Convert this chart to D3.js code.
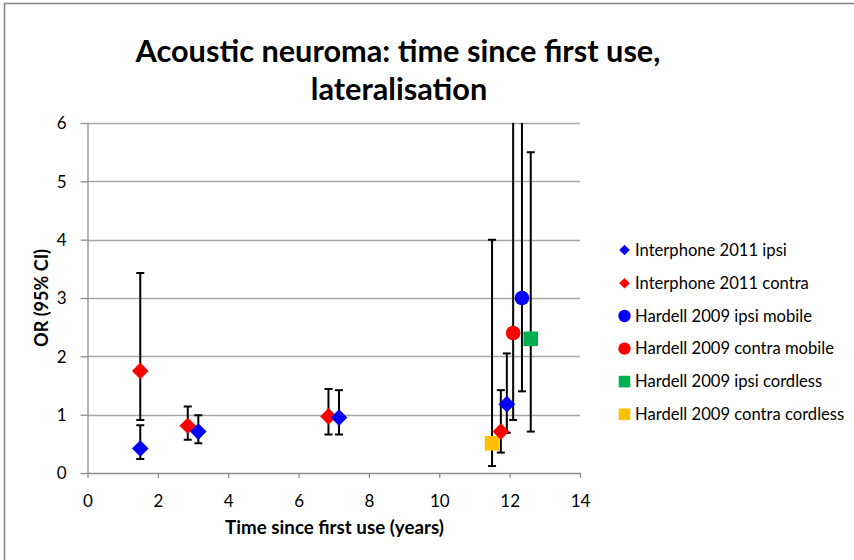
<!DOCTYPE html>
<html>
<head>
<meta charset="utf-8">
<script src="https://cdn.jsdelivr.net/npm/d3@7"></script>
<style>
  html, body { margin: 0; padding: 0; background: #fff; }
  svg { display: block; font-family: Lato, "Open Sans", sans-serif; }
</style>
</head>
<body>
<svg id="chart" width="854" height="560"></svg>
<script>
// ---------- data ----------
const titleLines = ["Acoustic neuroma: time since first use,", "lateralisation"];
const xAxisTitle = "Time since first use (years)";
const yAxisTitle = "OR (95% CI)";
const xTicks = [0, 2, 4, 6, 8, 10, 12, 14];
const yTicks = [0, 1, 2, 3, 4, 5, 6];

const seriesNames = [
  "Interphone 2011 ipsi",
  "Interphone 2011 contra",
  "Hardell 2009 ipsi mobile",
  "Hardell 2009 contra mobile",
  "Hardell 2009 ipsi cordless",
  "Hardell 2009 contra cordless"
];

const interphoneIpsiX  = [1.5, 3.15, 7.15, 11.92];
const interphoneIpsiOR = [0.42, 0.71, 0.95, 1.18];
const interphoneIpsiLo = [0.24, 0.51, 0.66, 0.69];
const interphoneIpsiHi = [0.82, 0.99, 1.42, 2.05];

const interphoneContraX  = [1.5, 2.85, 6.85, 11.75];
const interphoneContraOR = [1.75, 0.81, 0.97, 0.71];
const interphoneContraLo = [0.91, 0.57, 0.66, 0.35];
const interphoneContraHi = [3.43, 1.14, 1.44, 1.42];

const hardellIpsiMobileX  = [12.35];
const hardellIpsiMobileOR = [3.0];
const hardellIpsiMobileLo = [1.4];
const hardellIpsiMobileHi = [6.5];

const hardellContraMobileX  = [12.1];
const hardellContraMobileOR = [2.4];
const hardellContraMobileLo = [0.91];
const hardellContraMobileHi = [6.5];

const hardellIpsiCordlessX  = [12.6];
const hardellIpsiCordlessOR = [2.3];
const hardellIpsiCordlessLo = [0.71];
const hardellIpsiCordlessHi = [5.5];

const hardellContraCordlessX  = [11.5];
const hardellContraCordlessOR = [0.51];
const hardellContraCordlessLo = [0.12];
const hardellContraCordlessHi = [4.0];

// ---------- build series ----------
function pts(xs, ors, los, his) {
  return xs.map((x, i) => ({ x, y: ors[i], lo: los[i], hi: his[i] }));
}
const series = [
  { name: seriesNames[0], color: "#0000FF", shape: "diamond", data: pts(interphoneIpsiX, interphoneIpsiOR, interphoneIpsiLo, interphoneIpsiHi) },
  { name: seriesNames[1], color: "#FF0000", shape: "diamond", data: pts(interphoneContraX, interphoneContraOR, interphoneContraLo, interphoneContraHi) },
  { name: seriesNames[2], color: "#0000FF", shape: "circle", data: pts(hardellIpsiMobileX, hardellIpsiMobileOR, hardellIpsiMobileLo, hardellIpsiMobileHi) },
  { name: seriesNames[3], color: "#FF0000", shape: "circle", data: pts(hardellContraMobileX, hardellContraMobileOR, hardellContraMobileLo, hardellContraMobileHi) },
  { name: seriesNames[4], color: "#00B050", shape: "square", data: pts(hardellIpsiCordlessX, hardellIpsiCordlessOR, hardellIpsiCordlessLo, hardellIpsiCordlessHi) },
  { name: seriesNames[5], color: "#FFC000", shape: "square", data: pts(hardellContraCordlessX, hardellContraCordlessOR, hardellContraCordlessLo, hardellContraCordlessHi) }
];
// drawing order of markers (Hardell underneath Interphone)
const drawOrder = [5, 4, 3, 2, 1, 0];

// ---------- layout ----------
const svg = d3.select("#chart");
const plot = { left: 87.5, right: 580, top: 123, bottom: 473 };
const x = d3.scaleLinear().domain([0, 14]).range([plot.left, plot.right]);
const y = d3.scaleLinear().domain([0, 6]).range([plot.bottom, plot.top]);

const gray = "#8c8c8c";
const gridGray = "#a6a6a6";
const textColor = "#000";

// fit a text element's font size so its width matches a target width
function fitWidth(sel, baseSize, target) {
  sel.attr("font-size", baseSize);
  const w = sel.node().getComputedTextLength();
  const s = baseSize * target / w;
  sel.attr("font-size", s);
  return s;
}

// chart border
svg.append("rect").attr("x", 4.5).attr("y", 3.5).attr("width", 900).attr("height", 600)
  .attr("fill", "none").attr("stroke", "#8a8a8a").attr("stroke-width", 1.6);

// title
const title = svg.append("g").attr("font-weight", "bold").attr("fill", textColor).attr("text-anchor", "middle");
const t1 = title.append("text").attr("x", 398).attr("y", 62).text(titleLines[0]);
const t2 = title.append("text").attr("x", 399).attr("y", 100).text(titleLines[1]);
const fs = fitWidth(t1, 30, 525);
t2.attr("font-size", fs);

// gridlines
svg.append("g").selectAll("line").data(yTicks.filter(d => d > 0)).join("line")
  .attr("x1", plot.left).attr("x2", plot.right)
  .attr("y1", d => Math.round(y(d)) + 0.5).attr("y2", d => Math.round(y(d)) + 0.5)
  .attr("stroke", gridGray).attr("stroke-width", 1.3);

// axes
const xAxis = d3.axisBottom(x).tickValues(xTicks).tickSize(5).tickPadding(17).tickFormat(d3.format("d"));
const gx = svg.append("g").attr("transform", `translate(0,${plot.bottom})`).call(xAxis);
const yAxis = d3.axisLeft(y).tickValues(yTicks).tickSize(7).tickPadding(14).tickFormat(d3.format("d"));
const gy = svg.append("g").attr("transform", `translate(${plot.left},0)`).call(yAxis);
[gx, gy].forEach(g => {
  g.select(".domain").attr("stroke", gray).attr("stroke-width", 1.3);
  g.selectAll(".tick line").attr("stroke", gray).attr("stroke-width", 1.3);
  g.selectAll(".tick text").attr("fill", textColor).attr("font-size", 17)
    .attr("font-family", "Lato, 'Open Sans', sans-serif");
});
gx.select(".domain").attr("d", `M${plot.left},0.5H${plot.right}`);
gy.select(".domain").attr("d", `M0.5,${plot.bottom}V${plot.top}`);
gy.selectAll(".tick text").attr("dy", "0.35em");

// axis titles
const xt = svg.append("text").attr("x", 334.5).attr("y", 534).attr("text-anchor", "middle")
  .attr("font-weight", "bold").attr("fill", textColor).text(xAxisTitle);
fitWidth(xt, 16, 219);
const yt = svg.append("text").attr("transform", `translate(48,${(plot.top + plot.bottom) / 2}) rotate(-90)`)
  .attr("text-anchor", "middle").attr("font-weight", "bold")
  .attr("fill", textColor).text(yAxisTitle);
fitWidth(yt, 16, 98);

// clip
svg.append("clipPath").attr("id", "plotclip").append("rect")
  .attr("x", plot.left - 20).attr("y", plot.top).attr("width", plot.right - plot.left + 40)
  .attr("height", plot.bottom - plot.top + 20);

const plotG = svg.append("g").attr("clip-path", "url(#plotclip)");

// error bars
const capW = 4;
series.forEach(s => {
  const g = plotG.append("g").attr("stroke", "#000").attr("stroke-width", 2);
  s.data.forEach(d => {
    const cx = x(d.x);
    g.append("line").attr("x1", cx).attr("x2", cx).attr("y1", y(d.lo)).attr("y2", y(d.hi));
    g.append("line").attr("x1", cx - capW).attr("x2", cx + capW).attr("y1", y(d.lo)).attr("y2", y(d.lo));
    g.append("line").attr("x1", cx - capW).attr("x2", cx + capW).attr("y1", y(d.hi)).attr("y2", y(d.hi));
  });
});

function drawMarker(g, shape, color, cx, cy, big) {
  if (shape === "diamond") {
    const h = big ? 8.3 : 5.3;
    g.append("path").attr("d", `M${cx},${cy - h}L${cx + h},${cy}L${cx},${cy + h}L${cx - h},${cy}Z`).attr("fill", color);
  } else if (shape === "circle") {
    g.append("circle").attr("cx", cx).attr("cy", cy).attr("r", big ? 7.3 : 6.2).attr("fill", color);
  } else {
    const h = big ? 7.3 : 5.8;
    g.append("rect").attr("x", cx - h).attr("y", cy - h).attr("width", 2 * h).attr("height", 2 * h).attr("fill", color);
  }
}

// markers
drawOrder.forEach(i => {
  const s = series[i];
  const g = plotG.append("g");
  s.data.forEach(d => drawMarker(g, s.shape, s.color, x(d.x), y(d.y), true));
});

// legend
const legendY = [250, 283.2, 316, 348.6, 381.6, 414.3];
const legend = svg.append("g");
series.forEach((s, i) => {
  drawMarker(legend, s.shape, s.color, 624.5, legendY[i], false);
  legend.append("text").attr("x", 635).attr("y", legendY[i] + 5.8)
    .attr("font-size", 16.6).attr("fill", textColor).text(s.name);
});
</script>
</body>
</html>
